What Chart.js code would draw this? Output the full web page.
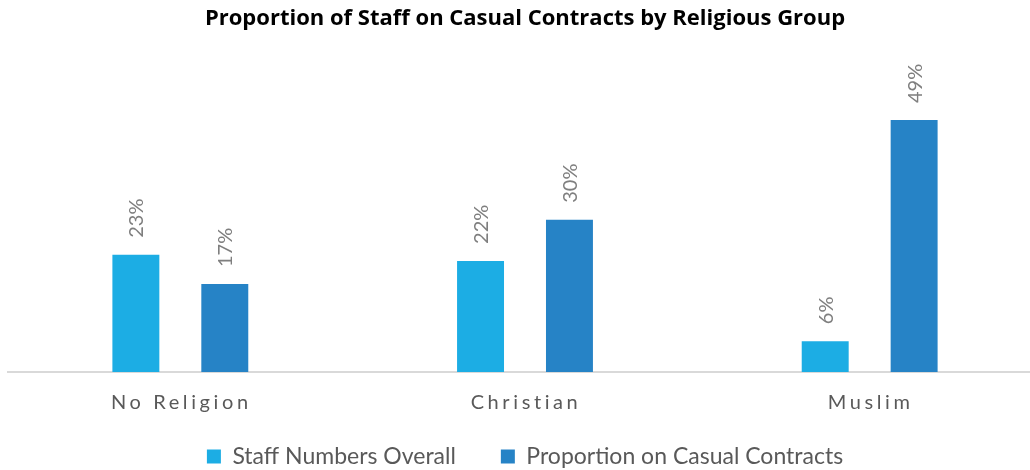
<!DOCTYPE html>
<html>
<head>
<meta charset="utf-8">
<script src="https://cdn.jsdelivr.net/npm/chart.js@4.4.0/dist/chart.umd.min.js"></script>
<style>
  html, body { margin: 0; padding: 0; background: #fff; overflow: hidden; }
  #wrap { width: 1050px; height: 470px; }
</style>
</head>
<body>
<div id="wrap"><canvas id="religionChart" width="1050" height="470"></canvas></div>
<script>
// categories and series
const categories = ['No Religion', 'Christian', 'Muslim'];
const seriesNames = ['Staff Numbers Overall', 'Proportion on Casual Contracts'];
const staffOverall = [0.228, 0.216, 0.06];
const casualProportion = [0.171, 0.296, 0.49];
const seriesColors = ['#1CADE4', '#2683C6'];

const pct = v => Math.round(v * 100) + '%';

// rotated value labels above each bar
const barLabels = {
  id: 'barLabels',
  afterDatasetsDraw(chart) {
    const ctx = chart.ctx;
    ctx.save();
    ctx.font = '20px Lato';
    ctx.fillStyle = '#7F7F7F';
    ctx.textAlign = 'left';
    ctx.textBaseline = 'middle';
    chart.data.datasets.forEach((ds, i) => {
      chart.getDatasetMeta(i).data.forEach((bar, j) => {
        ctx.save();
        ctx.translate(bar.x, bar.y - 17);
        ctx.rotate(-Math.PI / 2);
        ctx.fillText(pct(ds.data[j]), 0, 1);
        ctx.restore();
      });
    });
    ctx.restore();
  }
};

// spaced-out category names under the axis
const categoryLabels = {
  id: 'categoryLabels',
  afterDraw(chart) {
    const ctx = chart.ctx;
    const xs = chart.scales.x;
    ctx.save();
    ctx.font = '20px Lato';
    ctx.fillStyle = '#595959';
    ctx.letterSpacing = '3.6px';
    ctx.textAlign = 'center';
    ctx.textBaseline = 'alphabetic';
    categories.forEach((c, i) => {
      ctx.fillText(c, xs.getPixelForValue(i) + 1, 409);
    });
    ctx.restore();
  }
};

new Chart(document.getElementById('religionChart'), {
  type: 'bar',
  data: {
    labels: categories,
    datasets: [{
      label: seriesNames[0],
      data: staffOverall,
      backgroundColor: seriesColors[0]
    }, {
      label: seriesNames[1],
      data: casualProportion,
      backgroundColor: seriesColors[1]
    }]
  },
  options: {
    responsive: false,
    animation: false,
    layout: { padding: { left: 8, right: 8, top: 0, bottom: -8 } },
    datasets: {
      bar: { categoryPercentage: 0.516, barPercentage: 0.528 }
    },
    plugins: {
      title: {
        display: true,
        text: 'Proportion of Staff on Casual Contracts by Religious Group',
        color: '#000',
        font: { family: 'Open Sans', size: 22, weight: 'bold' },
        padding: { top: 6, bottom: 31 }
      },
      legend: {
        position: 'bottom',
        labels: {
          color: '#595959',
          font: { family: 'Lato', size: 23 },
          boxWidth: 14,
          boxHeight: 14,
          padding: 45
        }
      },
      tooltip: { enabled: false }
    },
    scales: {
      x: {
        grid: { display: false },
        border: { color: '#D9D9D9', width: 2 },
        ticks: { display: false },
        afterFit: (scale) => { scale.height = 28; }
      },
      y: {
        display: false,
        min: 0,
        max: 0.6
      }
    }
  },
  plugins: [barLabels, categoryLabels]
});
</script>
</body>
</html>
